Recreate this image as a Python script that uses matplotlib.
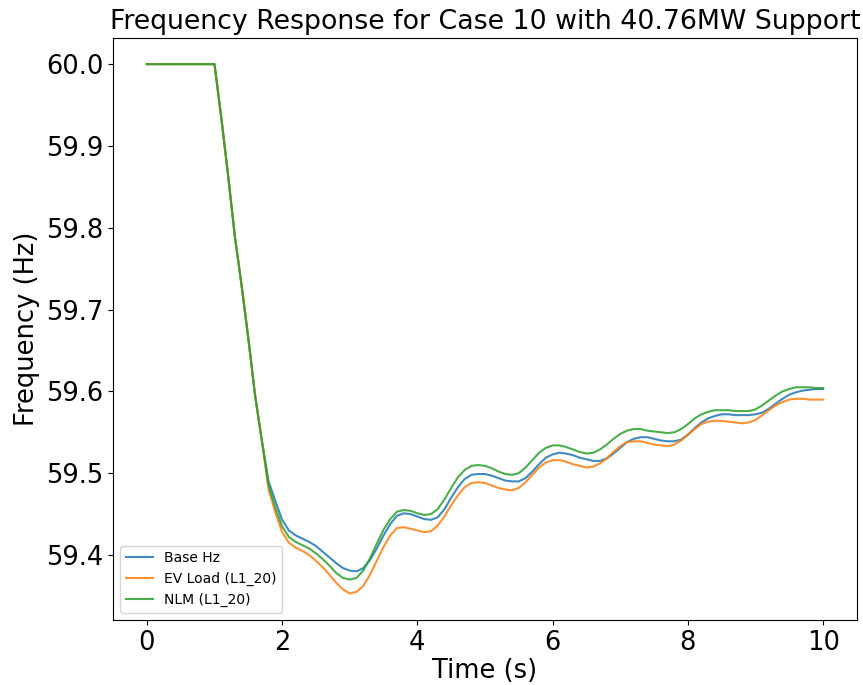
import numpy as np
import matplotlib
matplotlib.use('Agg')
import matplotlib.pyplot as plt

# time grid (s): start, then every 0.1 s from the disturbance at 1.0 s
time = [0.0] + [round(1.0 + 0.1 * i, 1) for i in range(91)]

# shared part of the response up to 1.7 s
drop = [60.0, 60.0, 59.935, 59.865, 59.79, 59.73, 59.665, 59.595, 59.54]

base_hz = drop + [
    59.490, 59.466, 59.443, 59.430, 59.424, 59.420, 59.416, 59.411, 59.404, 59.397,
    59.390, 59.384, 59.381, 59.380, 59.384, 59.394, 59.408, 59.424, 59.438, 59.448,
    59.451, 59.450, 59.447, 59.444, 59.443, 59.446, 59.456, 59.470, 59.483, 59.493,
    59.498, 59.499, 59.499, 59.497, 59.494, 59.491, 59.490, 59.490, 59.494, 59.502,
    59.511, 59.519, 59.523, 59.525, 59.524, 59.522, 59.519, 59.517, 59.515, 59.515,
    59.518, 59.524, 59.531, 59.538, 59.542, 59.544, 59.544, 59.542, 59.540, 59.539,
    59.539, 59.541, 59.547, 59.555, 59.562, 59.567, 59.570, 59.572, 59.572, 59.571,
    59.571, 59.571, 59.572, 59.574, 59.579, 59.585, 59.591, 59.596, 59.599, 59.601,
    59.602, 59.603, 59.603]

ev_load = drop + [
    59.480, 59.452, 59.428, 59.415, 59.409, 59.405, 59.400, 59.393, 59.385, 59.376,
    59.366, 59.358, 59.353, 59.355, 59.362, 59.376, 59.393, 59.410, 59.424, 59.433,
    59.434, 59.432, 59.430, 59.428, 59.429, 59.436, 59.447, 59.461, 59.473, 59.483,
    59.488, 59.489, 59.488, 59.485, 59.482, 59.480, 59.479, 59.482, 59.489, 59.498,
    59.507, 59.513, 59.516, 59.516, 59.514, 59.511, 59.509, 59.507, 59.508, 59.512,
    59.518, 59.526, 59.533, 59.538, 59.539, 59.539, 59.537, 59.535, 59.534, 59.533,
    59.535, 59.540, 59.547, 59.554, 59.560, 59.563, 59.564, 59.564, 59.563, 59.562,
    59.561, 59.562, 59.565, 59.571, 59.577, 59.583, 59.587, 59.590, 59.591, 59.591,
    59.590, 59.590, 59.590]

nlm = drop + [
    59.485, 59.458, 59.435, 59.422, 59.416, 59.412, 59.408, 59.402, 59.395, 59.387,
    59.378, 59.372, 59.370, 59.372, 59.381, 59.396, 59.414, 59.431, 59.444, 59.453,
    59.455, 59.454, 59.451, 59.449, 59.450, 59.456, 59.468, 59.482, 59.495, 59.504,
    59.509, 59.510, 59.509, 59.506, 59.502, 59.499, 59.498, 59.500, 59.507, 59.516,
    59.525, 59.531, 59.534, 59.534, 59.532, 59.529, 59.526, 59.524, 59.525, 59.529,
    59.535, 59.542, 59.548, 59.552, 59.554, 59.554, 59.552, 59.551, 59.550, 59.549,
    59.550, 59.554, 59.560, 59.567, 59.572, 59.575, 59.577, 59.577, 59.577, 59.576,
    59.576, 59.576, 59.578, 59.583, 59.589, 59.595, 59.600, 59.603, 59.605, 59.605,
    59.605, 59.604, 59.604]

fig, ax = plt.subplots(figsize=(8.63, 6.85), dpi=100)
fig.subplots_adjust(left=0.131, right=0.993, top=0.945, bottom=0.095)

ax.plot(time, base_hz, label='Base Hz', alpha=0.85)
ax.plot(time, ev_load, label='EV Load (L1_20)', alpha=0.85)
ax.plot(time, nlm, label='NLM (L1_20)', alpha=0.85)

ax.set_title('Frequency Response for Case 10 with 40.76MW Support', fontsize=19.3)
ax.set_xlabel('Time (s)', fontsize=18.5, labelpad=2)
ax.set_ylabel('Frequency (Hz)', fontsize=18.5)
ax.tick_params(labelsize=18.5)
ax.legend(loc='lower left')

plt.savefig('out.png')
